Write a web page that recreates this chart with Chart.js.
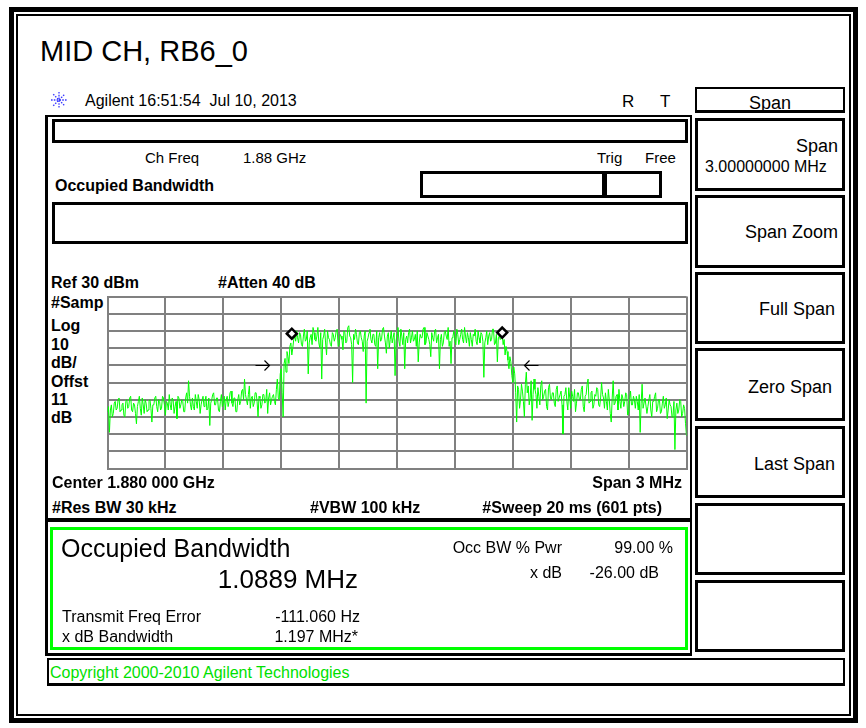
<!DOCTYPE html>
<html>
<head>
<meta charset="utf-8">
<script src="https://cdn.jsdelivr.net/npm/chart.js@4.4.0/dist/chart.umd.min.js"></script>
<style>
  html, body { margin: 0; padding: 0; background: #fff; }
  body { width: 866px; height: 728px; position: relative; overflow: hidden;
         font-family: "Liberation Sans", Arial, sans-serif; color: #000; }
  .box { position: absolute; box-sizing: border-box; border: 3px solid #000; }
  .bar { position: absolute; background: #000; }
  .t { position: absolute; white-space: nowrap; font-size: 16px; line-height: 1; }
  .b { font-weight: bold; }
  .key { position: absolute; box-sizing: border-box; border: 3px solid #000; left: 695px; width: 150px; }
  .kl { position: absolute; white-space: nowrap; font-size: 18px; line-height: 1; }
  #trace { position: absolute; left: 100px; top: 289px; }
</style>
</head>
<body>

<!-- outer double frame -->
<div class="box" style="left:9px;top:7px;width:849px;height:716px;border-width:5px"></div>
<div class="box" style="left:16px;top:14px;width:835px;height:702px;border-width:2px"></div>

<div class="t" style="left:40px;top:37px;font-size:29px">MID CH, RB6_0</div>

<!-- header line -->
<svg style="position:absolute;left:49px;top:90px" width="20" height="20" viewBox="-10 -10 20 20">
  <g stroke="#3a3aff" stroke-width="1.3" stroke-dasharray="1.6 1.2">
    <line x1="0" y1="-8" x2="0" y2="8"/>
    <line x1="-8" y1="0" x2="8" y2="0"/>
    <line x1="-5.8" y1="-5.8" x2="5.8" y2="5.8"/>
    <line x1="-5.8" y1="5.8" x2="5.8" y2="-5.8"/>
  </g>
</svg>
<div class="t" style="left:85px;top:92.5px">Agilent&nbsp;16:51:54&nbsp; Jul 10, 2013</div>
<div class="t" style="left:622px;top:92.5px;font-size:17px">R</div>
<div class="t" style="left:660px;top:92.5px;font-size:17px">T</div>

<!-- analyzer frame -->
<div class="bar" style="left:45px;top:115px;width:647px;height:2px"></div>
<div class="bar" style="left:45px;top:115px;width:3px;height:541px"></div>
<div class="bar" style="left:690px;top:115px;width:2px;height:541px"></div>
<div class="bar" style="left:45px;top:518px;width:647px;height:4px"></div>
<div class="bar" style="left:45px;top:653px;width:647px;height:3px"></div>

<div class="box" style="left:52px;top:119px;width:636px;height:24px"></div>
<div class="t" style="left:145px;top:149.5px;font-size:15px">Ch Freq</div>
<div class="t" style="left:243px;top:149.5px;font-size:15px">1.88 GHz</div>
<div class="t" style="left:597px;top:149.5px;font-size:15px">Trig</div>
<div class="t" style="left:645px;top:149.5px;font-size:15px">Free</div>
<div class="t b" style="left:55px;top:177.5px">Occupied Bandwidth</div>
<div class="box" style="left:420px;top:171px;width:242px;height:27px"></div>
<div class="bar" style="left:602px;top:171px;width:5px;height:27px"></div>
<div class="box" style="left:52px;top:202px;width:636px;height:42px"></div>

<div class="t b" style="left:51px;top:274.5px">Ref 30 dBm</div>
<div class="t b" style="left:218px;top:274.5px">#Atten 40 dB</div>
<div class="t b" style="left:51px;top:294.5px">#Samp</div>
<div class="t b" style="left:51px;top:317.5px">Log</div>
<div class="t b" style="left:51px;top:336.5px">10</div>
<div class="t b" style="left:51px;top:354.5px">dB/</div>
<div class="t b" style="left:51px;top:373.5px">Offst</div>
<div class="t b" style="left:51px;top:391.5px">11</div>
<div class="t b" style="left:51px;top:409.5px">dB</div>

<canvas id="trace" width="594" height="187"></canvas>

<div class="t b" style="left:52px;top:474.5px">Center 1.880 000 GHz</div>
<div class="t b" style="right:184px;top:474.5px">Span 3 MHz</div>
<div class="t b" style="left:52px;top:499.5px">#Res BW 30 kHz</div>
<div class="t b" style="left:310px;top:499.5px">#VBW 100 kHz</div>
<div class="t b" style="right:204px;top:499.5px">#Sweep 20 ms (601 pts)</div>

<!-- occupied bandwidth result panel -->
<div class="box" style="left:50px;top:527px;width:638px;height:123px;border-color:#00ff00"></div>
<div class="t" style="left:61px;top:536px;font-size:25px">Occupied Bandwidth</div>
<div class="t" style="right:508px;top:566px;font-size:26px">1.0889 MHz</div>
<div class="t" style="left:62px;top:608.5px">Transmit Freq Error</div>
<div class="t" style="right:506px;top:608.5px">-111.060 Hz</div>
<div class="t" style="left:62px;top:628.5px">x dB Bandwidth</div>
<div class="t" style="right:508px;top:628.5px">1.197 MHz*</div>
<div class="t" style="right:304px;top:539.5px">Occ BW % Pwr</div>
<div class="t" style="right:193px;top:539.5px">99.00 %</div>
<div class="t" style="right:304px;top:564.5px">x dB</div>
<div class="t" style="right:207px;top:564.5px">-26.00 dB</div>

<div class="box" style="left:47px;top:658px;width:798px;height:28px;border-width:2px 2px 3px 2px"></div>
<div class="t" style="left:50px;top:664.5px;color:#00e000">Copyright 2000-2010 Agilent Technologies</div>

<!-- softkeys -->
<div class="key" style="top:87px;height:26px;border-width:2px 2px 3px 2px"></div>
<div class="kl" style="left:695px;width:150px;text-align:center;top:94px">Span</div>
<div class="key" style="top:118px;height:73px"></div>
<div class="kl" style="right:28px;top:137px">Span</div>
<div class="t" style="left:705px;top:158.5px">3.00000000 MHz</div>
<div class="key" style="top:195px;height:73px"></div>
<div class="kl" style="right:28px;top:223px">Span Zoom</div>
<div class="key" style="top:272px;height:72px"></div>
<div class="kl" style="right:31px;top:300px">Full Span</div>
<div class="key" style="top:348px;height:73px"></div>
<div class="kl" style="right:34px;top:378px">Zero Span</div>
<div class="key" style="top:426px;height:72px"></div>
<div class="kl" style="right:31px;top:455px">Last Span</div>
<div class="key" style="top:503px;height:72px"></div>
<div class="key" style="top:580px;height:72px"></div>

<script>
// sweep: 601 points across 3 MHz span, offsets from 1.880 GHz in kHz
const spanStartKHz = -1500;
const spanStopKHz = 1500;
const pointStepKHz = 5;
const refLevelDbm = 30;
const bottomLevelDbm = -70;

// trace levels (dBm), left to right
const lowerSideband = [
  -37, -34, -49, -36, -33, -40, -38, -32, -31, -36, -35, -30, -29, -37, -36, -33, -32, -39, -40, -31,
  -30, -35, -34, -29, -28, -36, -37, -32, -33, -38, -44, -34, -31, -28, -35, -39, -29, -33, -38, -30,
  -32, -37, -36, -31, -30, -35, -43, -33, -33, -29, -28, -34, -37, -30, -31, -36, -35, -28, -29, -33,
  -39, -31, -32, -36, -27, -33, -36, -29, -30, -38, -34, -31, -41, -28, -29, -35, -33, -30, -31, -37,
  -37, -29, -26, -32, -19, -28, -33, -36, -29, -34, -36, -27, -31, -35, -27, -30, -38, -33, -30, -28,
  -34, -31, -28, -36, -35, -29, -45, -32, -30, -27, -26, -33, -33, -29, -29, -36, -37, -31, -27, -34,
  -32, -28, -36, -30, -28, -34, -31, -26, -25, -32, -34, -29, -29, -37, -37, -30, -27, -33, -31, -25,
  -24, -30, -18, -27, -30, -33, -27, -22, -35, -29, -28, -34, -32, -26, -26, -31, -40, -28, -29, -35,
  -33, -27, -27, -32, -31, -24, -38, -29, -26, -33, -30, -28
];
const risingEdge = [
  -27, -31, -33, -24, -18, -29, -30, -15, -12, -26, -40, -9,
  -6, -14, -2, -5, -9, 1, 3, -4, 0, 5, 7, 4
];
const inBand = [
  10, 6, 3, 9, 8, 2, 1, 7, 11, 4, 5, 10, -15, 3, 6, 8, 2, 12, 9, 5,
  4, 7, 12, 3, 0, 9, -18, 5, 7, 11, 3, -4, 10, 6, 5, 2, 1, 9, 8, 4,
  6, 10, 11, 1, 2, 8, 7, 5, -1, 10, 9, 3, 4, 12, 13, 7, 6, 2, -20, 8,
  5, 11, 8, 3, 2, 9, 10, 6, 4, -2, 7, 10, -32, 4, 6, 9, 11, 5, 3, 8,
  8, 2, 1, 10, -12, 6, 9, 4, 5, 11, 12, 7, 3, -3, 7, 9, 0, 5, 10, 3,
  6, 9, -16, 4, 8, 12, 4, 1, 11, 7, 2, 9, -12, 5, 7, 3, 9, 11, 3, 6,
  10, 4, 5, 8, 1, 10, -8, 3, 8, 6, 6, 11, 12, 2, 3, 9, 7, 5, 2, -5,
  9, 6, 4, 10, 11, 3, 6, 8, -12, 5, 8, 1, 3, 9, 10, 7, 5, 12, 1, 4,
  -9, 6, 7, 10, 4, 2, 11, 8, 2, 5, 8, 11, 5, 3, 12, 7, 3, 9, 6, 1,
  9, 5, 1, 8, 7, 11, 4, 2, 10, 6, 3, 9, 8, 4, -17, 3, 6, 10, 2, 7,
  9, 4, 5, 11, 11, 2, 3, 8, -8, 6, 7, 5
];
const fallingEdge = [
  6, 8, 2, 5, -4, 1, -2, -7, -12, -5, -8,
  -16, -20, -11, -15, -26, -43, -22, -24, -35, -30, -21
];
const upperSideband = [
  -25, -31, -40, -21, -14, -26, -22, -33, -29, -19, -42, -27, -18, -24, -27, -35, -23, -28, -33, -22,
  -19, -30, -28, -25, -24, -34, -36, -23, -21, -29, -30, -26, -26, -32, -34, -24, -22, -31, -29, -27,
  -25, -33, -50, -28, -27, -23, -31, -36, -23, -29, -35, -25, -28, -31, -24, -37, -32, -26, -26, -30,
  -30, -24, -22, -34, -37, -28, -27, -21, -18, -32, -31, -26, -25, -35, -33, -27, -28, -23, -24, -33,
  -34, -29, -20, -27, -29, -35, -26, -31, -36, -24, -30, -38, -43, -29, -19, -33, -32, -28, -27, -36,
  -24, -31, -35, -27, -29, -34, -31, -26, -27, -39, -38, -30, -25, -33, -33, -28, -30, -35, -28, -31,
  -36, -27, -49, -32, -21, -35, -32, -29, -29, -38, -34, -30, -27, -36, -40, -31, -31, -28, -26, -37,
  -35, -30, -30, -38, -37, -32, -28, -35, -33, -29, -41, -36, -30, -33, -34, -40, -39, -31, -59, -36,
  -32, -38, -36, -30, -31, -40, -38, -33, -35, -44, -51
];

// occupied bandwidth markers and x dB bandwidth arrows
const markerKHz = [-545, 545];
const markerDbm = [8.4, 9.0];
const xdbKHz = [-598.5, 598.5];
const arrowDbm = -10;

const levels = [].concat(lowerSideband, risingEdge, inBand, fallingEdge, upperSideband);
const tracePoints = levels.map((v, i) => ({ x: spanStartKHz + i * pointStepKHz, y: v }));
const markerPoints = markerKHz.map((f, i) => ({ x: f, y: markerDbm[i] }));

const xdbArrows = {
  id: 'xdbArrows',
  afterDatasetsDraw(chart) {
    const { ctx, scales: { x, y } } = chart;
    const yy = Math.round(y.getPixelForValue(arrowDbm)) + 0.5;
    ctx.save();
    ctx.strokeStyle = '#000';
    ctx.lineWidth = 1.2;
    xdbKHz.forEach((f, i) => {
      const dir = i === 0 ? 1 : -1; // left one points right, right one points left
      const tip = x.getPixelForValue(f) - dir * 12;
      const tail = tip - dir * 14;
      ctx.beginPath();
      ctx.moveTo(tail, yy);
      ctx.lineTo(tip, yy);
      ctx.moveTo(tip - dir * 5, yy - 5);
      ctx.lineTo(tip, yy);
      ctx.lineTo(tip - dir * 5, yy + 5);
      ctx.stroke();
    });
    ctx.restore();
  }
};

const gridGray = '#808080';

new Chart(document.getElementById('trace'), {
  type: 'line',
  data: {
    datasets: [
      {
        type: 'scatter',
        data: markerPoints,
        pointStyle: 'rectRot',
        pointRadius: 5,
        borderColor: '#000',
        backgroundColor: '#fff',
        borderWidth: 2.5,
        order: 0
      },
      {
        data: tracePoints,
        borderColor: '#00ff00',
        borderWidth: 1,
        pointRadius: 0,
        tension: 0,
        order: 1
      }
    ]
  },
  options: {
    responsive: false,
    animation: false,
    events: [],
    layout: { padding: 6 },
    plugins: { legend: { display: false }, tooltip: { enabled: false } },
    scales: {
      x: {
        type: 'linear',
        min: spanStartKHz,
        max: spanStopKHz,
        ticks: { display: false, stepSize: 300 },
        grid: { color: gridGray, lineWidth: 2, drawTicks: false },
        border: { color: gridGray, width: 2 }
      },
      y: {
        min: bottomLevelDbm,
        max: refLevelDbm,
        ticks: { display: false, stepSize: 10 },
        grid: { color: gridGray, lineWidth: 2, drawTicks: false },
        border: { color: gridGray, width: 2 }
      }
    }
  },
  plugins: [xdbArrows]
});
</script>
</body>
</html>
